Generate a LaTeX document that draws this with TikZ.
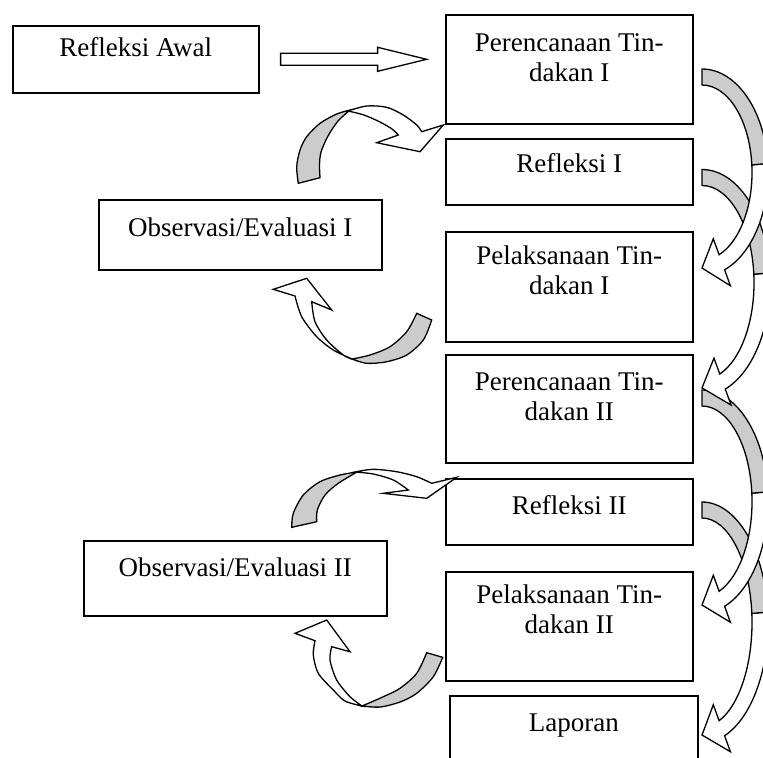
\documentclass[tikz,border=0pt]{standalone}
\usepackage{fontspec}
\setmainfont{Liberation Serif}
\usetikzlibrary{calc}
\tikzset{
  box/.style={draw, line width=0.8pt, inner sep=0pt, anchor=north west, font=\fontsize{13.5}{14.7}\selectfont},
  warrow/.style={draw, line width=0.65pt, fill=white},
  garrow/.style={draw, line width=0.65pt, fill=gray!40}
}
\newcommand{\boxtxt}[4][18.5pt]{\parbox[c][#3][t]{#2}{\centering\rule{0pt}{#1}#4}}
\begin{document}
\begin{tikzpicture}[x=0.5pt, y=-0.5pt]
  \useasboundingbox (0,0) rectangle (763,757);
  \clip (0,0) rectangle (763,757);
  % boxes
  \node[box] (ra) at (12,25) {\boxtxt[15.5pt]{123pt}{33.5pt}{Refleksi Awal}};
  \node[box] (p1) at (445,14) {\boxtxt[18.5pt]{123.5pt}{54.5pt}{Perencanaan Tin-\\dakan I}};
  \node[box] (r1) at (445,138) {\boxtxt[17pt]{123.5pt}{33pt}{Refleksi I}};
  \node[box] (o1) at (98,199) {\boxtxt{141.5pt}{35pt}{Observasi/Evaluasi I}};
  \node[box] (l1) at (445,231) {\boxtxt[16.5pt]{123.5pt}{55pt}{Pelaksanaan Tin-\\dakan I}};
  \node[box] (p2) at (445,354) {\boxtxt[18pt]{123.5pt}{54pt}{Perencanaan Tin-\\dakan II}};
  \node[box] (r2) at (445,478) {\boxtxt[18pt]{123.5pt}{33pt}{Refleksi II}};
  \node[box] (o2) at (83,540) {\boxtxt[18pt]{151.5pt}{37.5pt}{Observasi/Evaluasi II}};
  \node[box] (l2) at (445,571) {\boxtxt[16pt]{123.5pt}{54.5pt}{Pelaksanaan Tin-\\dakan II}};
  \node[box] (lap) at (449,695) {\boxtxt[18pt]{124pt}{40pt}{Laporan}};
  % straight arrow
  \draw[warrow] ($(ra.east)+(21,-6)$) -- ++(97,0) -- ++(0,-6) -- ++(49,12) -- ++(-49,12) -- ++(0,-6) -- ++(-97,0) -- cycle;
  % right side arrows
  \foreach \cy/\rx/\ry in {622.5/58/112.5, 501.5/58/103.5, 282.7/60/105.2, 172.5/58/95.5} {
    \coordinate (c) at (702,\cy);
    \pgfmathsetmacro\rxo{\rx+8}  \pgfmathsetmacro\ryo{\ry+8}
    \pgfmathsetmacro\rxi{\rx-8}  \pgfmathsetmacro\ryi{\ry-8}
    \pgfmathsetmacro\rxh{\rx+25} \pgfmathsetmacro\ryh{\ry+25}
    \pgfmathsetmacro\rxl{\rx-25} \pgfmathsetmacro\ryl{\ry-25}
    \filldraw[warrow] ($(c)+(-5:{\rxo} and {\ryo})$) arc[start angle=-5, end angle=70, x radius=\rxo, y radius=\ryo]
      -- ($(c)+(70:{\rxh} and {\ryh})$) -- ($(c)+(90:{\rx} and {\ry})$) -- ($(c)+(70:{\rxl} and {\ryl})$)
      -- ($(c)+(70:{\rxi} and {\ryi})$) arc[start angle=70, end angle=-5, x radius=\rxi, y radius=\ryi] -- cycle;
    \filldraw[garrow] ($(c)+(-90:{\rxo} and {\ryo})$) arc[start angle=-90, end angle=-5, x radius=\rxo, y radius=\ryo]
      -- ($(c)+(-5:{\rxi} and {\ryi})$) arc[start angle=-5, end angle=-90, x radius=\rxi, y radius=\ryi] -- cycle;
  }
  % o1 -> r1
  \filldraw[garrow] plot[smooth] coordinates {(298.3,183.3) (296.7,166.7) (300,150) (306.7,136.7) (320,123.3) (336.7,114) (350,110)}
    -- plot[smooth] coordinates {(350,110) (338,121) (328,136) (321,152) (319.5,165) (320,177.7)} -- cycle;
  \filldraw[warrow] plot[smooth] coordinates {(348,111) (366.7,106) (386.7,107.3) (403.3,115) (416.7,125) (421.7,131.7)}
    -- (443.3,125) -- (420,151.7) -- (376.7,142.7) -- (398.3,135)
    -- plot[smooth] coordinates {(398.3,135) (392,129) (380,122) (364,115) (348,111)} -- cycle;
  % l1 -> o1
  \filldraw[garrow] plot[smooth] coordinates {(431.7,320) (423.3,340) (406.7,355) (386.7,361.7) (366.7,363.3) (352,359)}
    -- plot[smooth] coordinates {(352,359) (370,355) (390,346.7) (406.7,331.7) (416.7,313.3)} -- cycle;
  \filldraw[warrow] plot[smooth] coordinates {(352,359) (333.3,350) (316.7,336.7) (301.7,316.7) (295,296)}
    -- (273.3,289.3) -- (306.7,278.3) -- (331.7,310) -- (311.7,301.7)
    -- plot[smooth] coordinates {(311.7,301.7) (315,321.7) (326.7,340) (343.3,355) (352,359)} -- cycle;
  % o2 -> r2
  \filldraw[garrow] plot[smooth] coordinates {(291.7,527.3) (293.3,513.3) (303.3,495) (320,481.7) (340,475) (357,472)}
    -- plot[smooth] coordinates {(357,472) (338.3,483.3) (325,495) (317.3,510) (316.7,521.7)} -- cycle;
  \filldraw[warrow] plot[smooth] coordinates {(355,472) (373.3,469.3) (396.7,471.7) (416.7,476.7) (431.7,483.3)}
    -- (456.7,477.3) -- (426.7,498.3) -- (383.3,493.3) -- (408.3,490)
    -- plot[smooth] coordinates {(408.3,490) (393.3,480) (373.3,474) (355,472)} -- cycle;
  % l2 -> o2
  \filldraw[garrow] plot[smooth] coordinates {(442.7,657.3) (433.3,676.7) (416.7,693.3) (400,702) (380,707) (362,706)}
    -- plot[smooth] coordinates {(362,706) (383.3,696.7) (400,688.3) (416.7,673.3) (426.7,652.7)} -- cycle;
  \filldraw[warrow] plot[smooth] coordinates {(362,706) (345,701) (333.3,690) (318.3,673.3) (313.3,655) (315,640.7)}
    -- (295,633.3) -- (326.7,620) -- (350,651.7) -- (331.7,646.7)
    -- plot[smooth] coordinates {(331.7,646.7) (330,660) (336.7,680) (350,696.7) (362,706)} -- cycle;
\end{tikzpicture}
\end{document}
